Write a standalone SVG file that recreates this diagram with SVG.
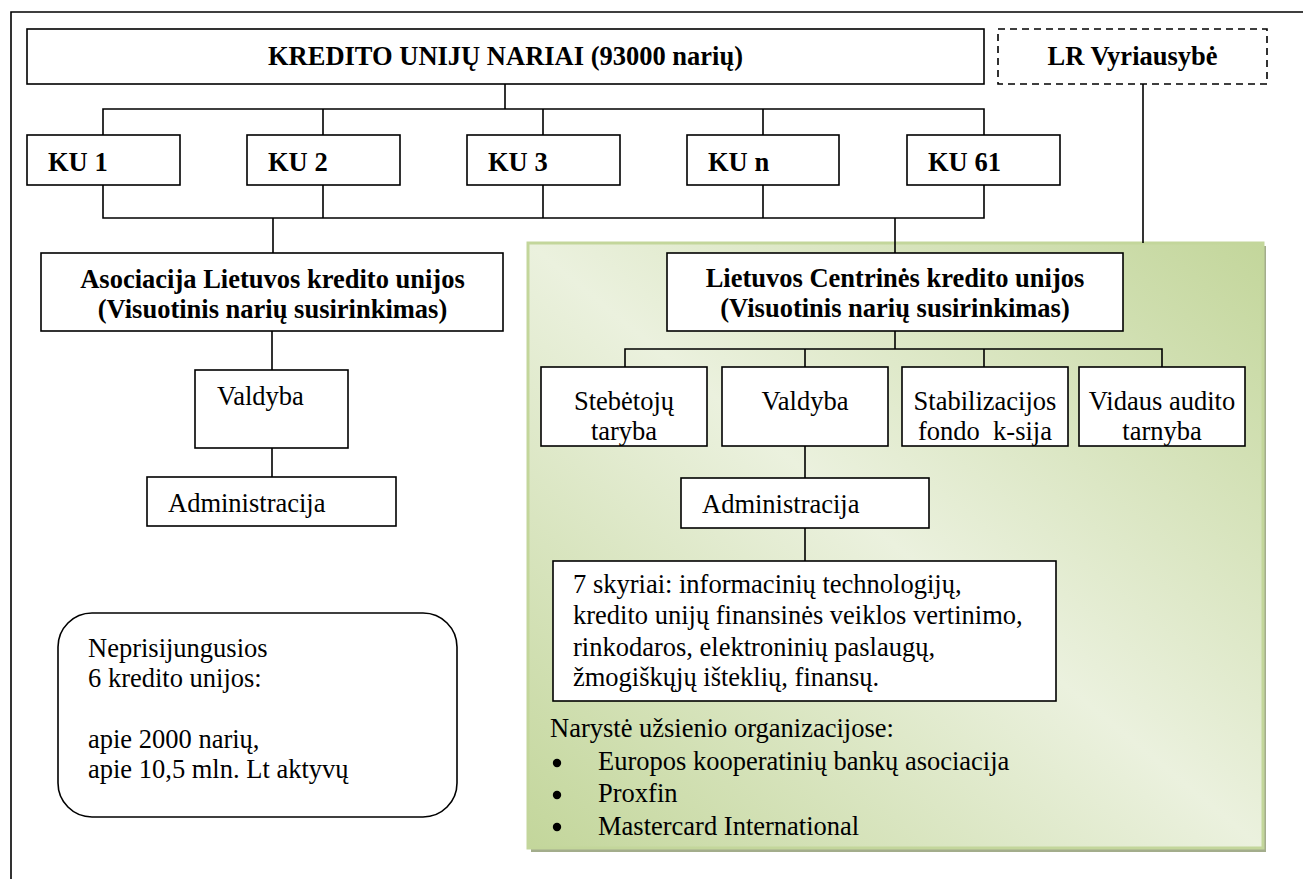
<svg xmlns="http://www.w3.org/2000/svg" width="1303" height="879" viewBox="0 0 1303 879">
<style>
.box{fill:#fff;stroke:#000;stroke-width:1.6}
.t{font-size:26.5px;fill:#000}
.b{font-weight:bold}
.c{text-anchor:middle}
.ln{stroke:#000;stroke-width:1.6;fill:none}
</style>
<defs>
<linearGradient id="g" x1="1" y1="0" x2="0" y2="1">
<stop offset="0" stop-color="#c3d69b"/>
<stop offset="0.5" stop-color="#ebf1de"/>
<stop offset="1" stop-color="#c3d69b"/>
</linearGradient>
</defs>
<rect width="1303" height="879" fill="#fff"/>
<g id="frame">
<path class="ln" d="M11,879 V12 H1303" stroke-width="2"/>
</g>
<g id="panel">
<rect x="531" y="246" width="735" height="606" fill="#a3ad8c"/>
<rect x="528" y="243" width="735" height="605" fill="url(#g)" stroke="#c3d69b" stroke-width="3"/>
</g>
<g id="connectors">
<path class="ln" d="M505,84 V109 M103,135 V109 H984 V135 M323,109 V135 M543,109 V135 M763,109 V135"/>
<path class="ln" d="M103,185 V218 H984 V185 M323,185 V218 M543,185 V218 M763,185 V218"/>
<path class="ln" d="M273,218 V253 M895,218 V253"/>
<path class="ln" d="M1143,84 V243"/>
<path class="ln" d="M272,331 V370 M272,448 V477"/>
<path class="ln" d="M895,331 V349 M625,367 V349 H1162 V367 M805,349 V367 M984,349 V367"/>
<path class="ln" d="M805,446 V478 M805,528 V561"/>
</g>
<g font-family="Liberation Serif, Times New Roman, serif">
<g id="kredito-uniju-nariai">
<rect class="box" x="27" y="29" width="957" height="55"/>
<text class="t b c" x="505.5" y="65">KREDITO UNIJŲ NARIAI (93000 narių)</text>
</g>
<g id="lr-vyriausybe">
<rect x="998" y="29" width="269" height="55" fill="#fff" stroke="#000" stroke-width="1.6" stroke-dasharray="7,5"/>
<text class="t b c" x="1132.5" y="65">LR Vyriausybė</text>
</g>
<g id="ku1"><rect class="box" x="27" y="135" width="153" height="50"/><text class="t b" x="48" y="171">KU 1</text></g>
<g id="ku2"><rect class="box" x="247" y="135" width="153" height="50"/><text class="t b" x="268" y="171">KU 2</text></g>
<g id="ku3"><rect class="box" x="467" y="135" width="153" height="50"/><text class="t b" x="488" y="171">KU 3</text></g>
<g id="kun"><rect class="box" x="687" y="135" width="152" height="50"/><text class="t b" x="708" y="171">KU n</text></g>
<g id="ku61"><rect class="box" x="907" y="135" width="153" height="50"/><text class="t b" x="928" y="171">KU 61</text></g>
<g id="asociacija">
<rect class="box" x="41" y="253" width="462" height="78"/>
<text class="t b c" x="272.5" y="288">Asociacija Lietuvos kredito unijos</text>
<text class="t b c" x="272.5" y="318">(Visuotinis narių susirinkimas)</text>
</g>
<g id="valdyba-a">
<rect class="box" x="195" y="370" width="153" height="78"/>
<text class="t" x="217" y="405">Valdyba</text>
</g>
<g id="administracija-a">
<rect class="box" x="147" y="477" width="249" height="49"/>
<text class="t" x="168" y="512">Administracija</text>
</g>
<g id="neprisijungusios">
<rect class="box" x="58" y="613" width="399" height="204" rx="34" ry="34"/>
<text class="t" x="88" y="657">Neprisijungusios</text>
<text class="t" x="88" y="687">6 kredito unijos:</text>
<text class="t" x="88" y="748">apie 2000 narių,</text>
<text class="t" x="88" y="778">apie 10,5 mln. Lt aktyvų</text>
</g>
<g id="lcku">
<rect class="box" x="667" y="253" width="456" height="78"/>
<text class="t b c" x="895" y="287">Lietuvos Centrinės kredito unijos</text>
<text class="t b c" x="895" y="317">(Visuotinis narių susirinkimas)</text>
</g>
<g id="stebetoju">
<rect class="box" x="541" y="367" width="166" height="79"/>
<text class="t c" x="624" y="410">Stebėtojų</text>
<text class="t c" x="624" y="440">taryba</text>
</g>
<g id="valdyba-l">
<rect class="box" x="722" y="367" width="166" height="79"/>
<text class="t c" x="805" y="410">Valdyba</text>
</g>
<g id="stabilizacijos">
<rect class="box" x="902" y="367" width="166" height="79"/>
<text class="t c" x="985" y="410">Stabilizacijos</text>
<text class="t c" x="985" y="440" xml:space="preserve">fondo  k-sija</text>
</g>
<g id="vidaus-audito">
<rect class="box" x="1079" y="367" width="166" height="79"/>
<text class="t c" x="1162" y="410">Vidaus audito</text>
<text class="t c" x="1162" y="440">tarnyba</text>
</g>
<g id="administracija-l">
<rect class="box" x="681" y="478" width="248" height="50"/>
<text class="t" x="702" y="513">Administracija</text>
</g>
<g id="skyriai">
<rect class="box" x="553" y="561" width="503" height="140"/>
<text class="t" x="573" y="593">7 skyriai: informacinių technologijų,</text>
<text class="t" x="573" y="624">kredito unijų finansinės veiklos vertinimo,</text>
<text class="t" x="573" y="656">rinkodaros, elektroninių paslaugų,</text>
<text class="t" x="573" y="686">žmogiškųjų išteklių, finansų.</text>
</g>
<g id="naryste">
<text class="t" x="550" y="737">Narystė užsienio organizacijose:</text>
<circle cx="557" cy="763" r="4.2" fill="#000"/>
<circle cx="557" cy="795" r="4.2" fill="#000"/>
<circle cx="557" cy="827" r="4.2" fill="#000"/>
<text class="t" x="598" y="770">Europos kooperatinių bankų asociacija</text>
<text class="t" x="598" y="802">Proxfin</text>
<text class="t" x="598" y="835">Mastercard International</text>
</g>
</g>
</svg>
